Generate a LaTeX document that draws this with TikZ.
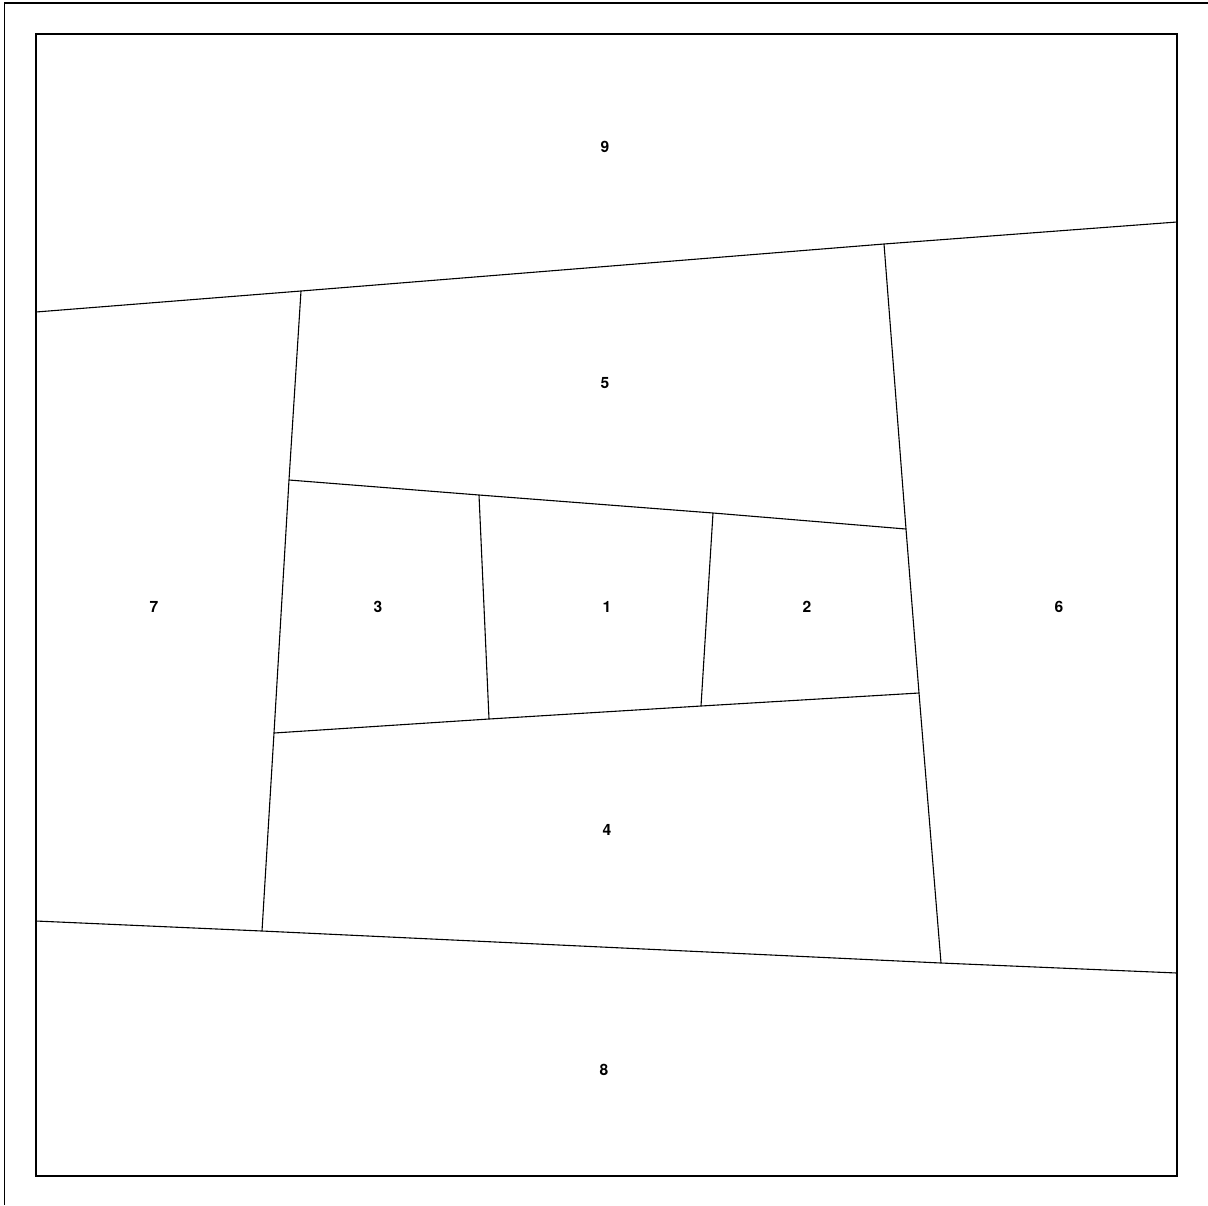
\documentclass[tikz,border=0pt]{standalone}
\usepackage{fontspec}
\setsansfont{TeX Gyre Heros}
\begin{document}
\begin{tikzpicture}[x=0.5pt,y=-0.5pt,
  edge/.style={draw=black,line width=0.55pt},
  lbl/.style={font=\sffamily\bfseries\fontsize{7.8}{9}\selectfont,inner sep=0pt}]
\useasboundingbox (0,0) rectangle (1208,1205);
% outer frame lines
\draw[edge,line width=0.8pt] (4.5,1205) -- (4.5,3) -- (1208,3);
% inner square
\draw[edge] (36,34) rectangle (1177,1176);
% coordinates
\coordinate (TL) at (36,312);
\coordinate (TR) at (1177,222);
\coordinate (A) at (301,291);
\coordinate (B) at (884,244);
\coordinate (BL) at (36,921);
\coordinate (BR) at (1177,973);
\coordinate (C) at (262,931);
\coordinate (D) at (941,963);
\coordinate (E) at (289,480);
\coordinate (F) at (906,529);
\coordinate (G) at (274,733);
\coordinate (H) at (919,693);
\coordinate (P) at (479,495);
\coordinate (Q) at (713,513);
\coordinate (R) at (489,719);
\coordinate (S) at (701,706);
% lines
\draw[edge] (TL) -- (A) -- (B) -- (TR);
\draw[edge] (BL) -- (C) -- (D) -- (BR);
\draw[edge] (A) -- (E) -- (G) -- (C);
\draw[edge] (B) -- (F) -- (H) -- (D);
\draw[edge] (E) -- (P) -- (Q) -- (F);
\draw[edge] (G) -- (R) -- (S) -- (H);
\draw[edge] (P) -- (R);
\draw[edge] (Q) -- (S);
% labels
\node[lbl] (n9) at (605,147) {9};
\node[lbl] (n5) at (605,383) {5};
\node[lbl] (n7) at (154,607) {7};
\node[lbl] (n3) at (378,607) {3};
\node[lbl] (n1) at (607,607) {1};
\node[lbl] (n2) at (807,607) {2};
\node[lbl] (n6) at (1059,607) {6};
\node[lbl] (n4) at (607,830) {4};
\node[lbl] (n8) at (604,1070) {8};
\end{tikzpicture}
\end{document}
